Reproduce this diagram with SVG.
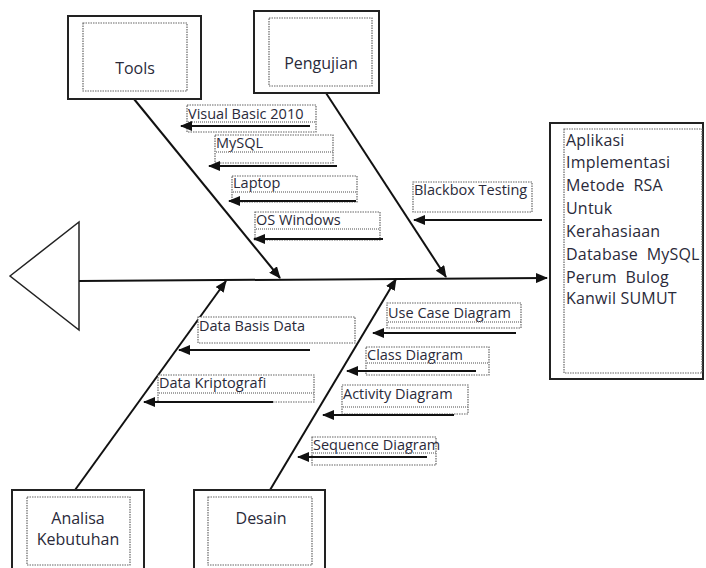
<svg xmlns="http://www.w3.org/2000/svg" width="706" height="568" viewBox="0 0 706 568">
<style>
.box{fill:#fff;stroke:#222;stroke-width:2}
.inner{fill:none;stroke:#666;stroke-width:1.2;stroke-dasharray:1.5 1}
.lbl{font-family:"Open Sans",sans-serif;font-size:16px;fill:#2a2a3a;text-anchor:middle}
.sub{font-family:"Open Sans",sans-serif;font-size:14.5px;fill:#2a2a3a}
.res{font-family:"Open Sans",sans-serif;font-size:16px;letter-spacing:0.2px;fill:#2a2a3a}
.tb{fill:#fff;stroke:#666;stroke-width:1.2;stroke-dasharray:1.5 1}
.sq{stroke:#888;stroke-width:1.5;stroke-dasharray:1 1}
.bone{stroke:#111;stroke-width:2;fill:none}
.arr{stroke:#111;stroke-width:2;fill:none;marker-end:url(#ah)}
</style>
<defs>
<marker id="ah" markerUnits="userSpaceOnUse" markerWidth="12" markerHeight="10" refX="11" refY="5" orient="auto">
<path d="M0,0 L12,5 L0,10 Z" fill="#111"/>
</marker>
</defs>
<rect width="706" height="568" fill="#fff"/>

<g id="head">
<polygon points="10,276 79,222 79,330" fill="#fff" stroke="#222" stroke-width="1.5"/>
</g>

<g id="connectors">
<line class="arr" x1="79" y1="281" x2="547" y2="278"/>
<line class="arr" x1="134" y1="99" x2="280" y2="278"/>
<line class="arr" x1="326" y1="93" x2="446" y2="277"/>
<line class="arr" x1="75" y1="490" x2="226" y2="281"/>
<line class="arr" x1="270" y1="490" x2="396" y2="279"/>
</g>

<g id="tools">
<rect class="box" x="68" y="16" width="133" height="83"/>
<rect class="inner" x="83" y="23" width="104" height="68"/>
<text class="lbl" x="135" y="74">Tools</text>
</g>
<g id="pengujian">
<rect class="box" x="254" y="11" width="125" height="82"/>
<rect class="inner" x="269" y="18" width="103" height="68"/>
<text class="lbl" x="321" y="69">Pengujian</text>
</g>
<g id="analisa">
<rect class="box" x="12" y="490" width="132" height="90"/>
<rect class="inner" x="27" y="497" width="103" height="68"/>
<text class="lbl" x="78" y="524">Analisa</text>
<text class="lbl" x="78" y="545">Kebutuhan</text>
</g>
<g id="desain">
<rect class="box" x="194" y="490" width="131" height="90"/>
<rect class="inner" x="208" y="497" width="104" height="68"/>
<text class="lbl" x="261" y="524">Desain</text>
</g>

<g id="result">
<rect class="box" x="550" y="123" width="153" height="256"/>
<rect class="inner" x="564" y="129" width="138" height="244"/>
<text class="res" x="566" y="146">Aplikasi</text>
<text class="res" x="566" y="168">Implementasi</text>
<text class="res" x="566" y="191" xml:space="preserve">Metode  RSA</text>
<text class="res" x="566" y="214">Untuk</text>
<text class="res" x="566" y="237">Kerahasiaan</text>
<text class="res" x="566" y="260" xml:space="preserve">Database  MySQL</text>
<text class="res" x="566" y="283" xml:space="preserve">Perum  Bulog</text>
<text class="res" x="566" y="304">Kanwil SUMUT</text>
</g>

<g id="visualbasic">
<rect class="tb" x="187" y="105" width="129" height="27"/>
<text class="sub" x="188" y="119">Visual Basic 2010</text>
<line class="sq" x1="188" y1="122" x2="316" y2="122"/>
<line class="arr" x1="310" y1="126" x2="181" y2="126"/>
</g>
<g id="mysql">
<rect class="tb" x="215" y="135" width="118" height="28"/>
<text class="sub" x="216" y="148">MySQL</text>
<line class="sq" x1="216" y1="152" x2="333" y2="152"/>
<line class="arr" x1="337" y1="166" x2="209" y2="166"/>
</g>
<g id="laptop">
<rect class="tb" x="232" y="176" width="125" height="26"/>
<text class="sub" x="233" y="188">Laptop</text>
<line class="sq" x1="233" y1="192" x2="357" y2="192"/>
<line class="arr" x1="356" y1="201" x2="229" y2="201"/>
</g>
<g id="oswindows">
<rect class="tb" x="255" y="212" width="125" height="28"/>
<text class="sub" x="256" y="225">OS Windows</text>
<line class="sq" x1="256" y1="229" x2="380" y2="229"/>
<line class="arr" x1="383" y1="239" x2="254" y2="239"/>
</g>
<g id="blackbox">
<rect class="tb" x="413" y="182" width="119" height="30"/>
<text class="sub" x="414" y="195">Blackbox Testing</text>
<line class="arr" x1="542" y1="220" x2="414" y2="220"/>
</g>
<g id="databasis">
<rect class="tb" x="198" y="317" width="157" height="26"/>
<text class="sub" x="199" y="331">Data Basis Data</text>
<line class="arr" x1="310" y1="350" x2="179" y2="350"/>
</g>
<g id="kriptografi">
<rect class="tb" x="158" y="375" width="156" height="27"/>
<text class="sub" x="159" y="388">Data Kriptografi</text>
<line class="sq" x1="159" y1="393" x2="314" y2="393"/>
<line class="arr" x1="273" y1="402" x2="144" y2="402"/>
</g>
<g id="usecase">
<rect class="tb" x="387" y="303" width="134" height="25"/>
<text class="sub" x="388" y="318">Use Case Diagram</text>
<line class="sq" x1="388" y1="322" x2="521" y2="322"/>
<line class="arr" x1="516" y1="333" x2="373" y2="333"/>
</g>
<g id="classdiagram">
<rect class="tb" x="366" y="347" width="123" height="28"/>
<text class="sub" x="367" y="360">Class Diagram</text>
<line class="sq" x1="367" y1="363" x2="489" y2="363"/>
<line class="arr" x1="476" y1="371" x2="347" y2="371"/>
</g>
<g id="activity">
<rect class="tb" x="342" y="385" width="126" height="29"/>
<text class="sub" x="343" y="399">Activity Diagram</text>
<line class="sq" x1="343" y1="407" x2="468" y2="407"/>
<line class="arr" x1="454" y1="415" x2="323" y2="415"/>
</g>
<g id="sequence">
<rect class="tb" x="312" y="437" width="124" height="28"/>
<text class="sub" x="313" y="450">Sequence Diagram</text>
<line class="sq" x1="313" y1="453" x2="436" y2="453"/>
<line class="arr" x1="427" y1="457" x2="298" y2="457"/>
</g>
</svg>
